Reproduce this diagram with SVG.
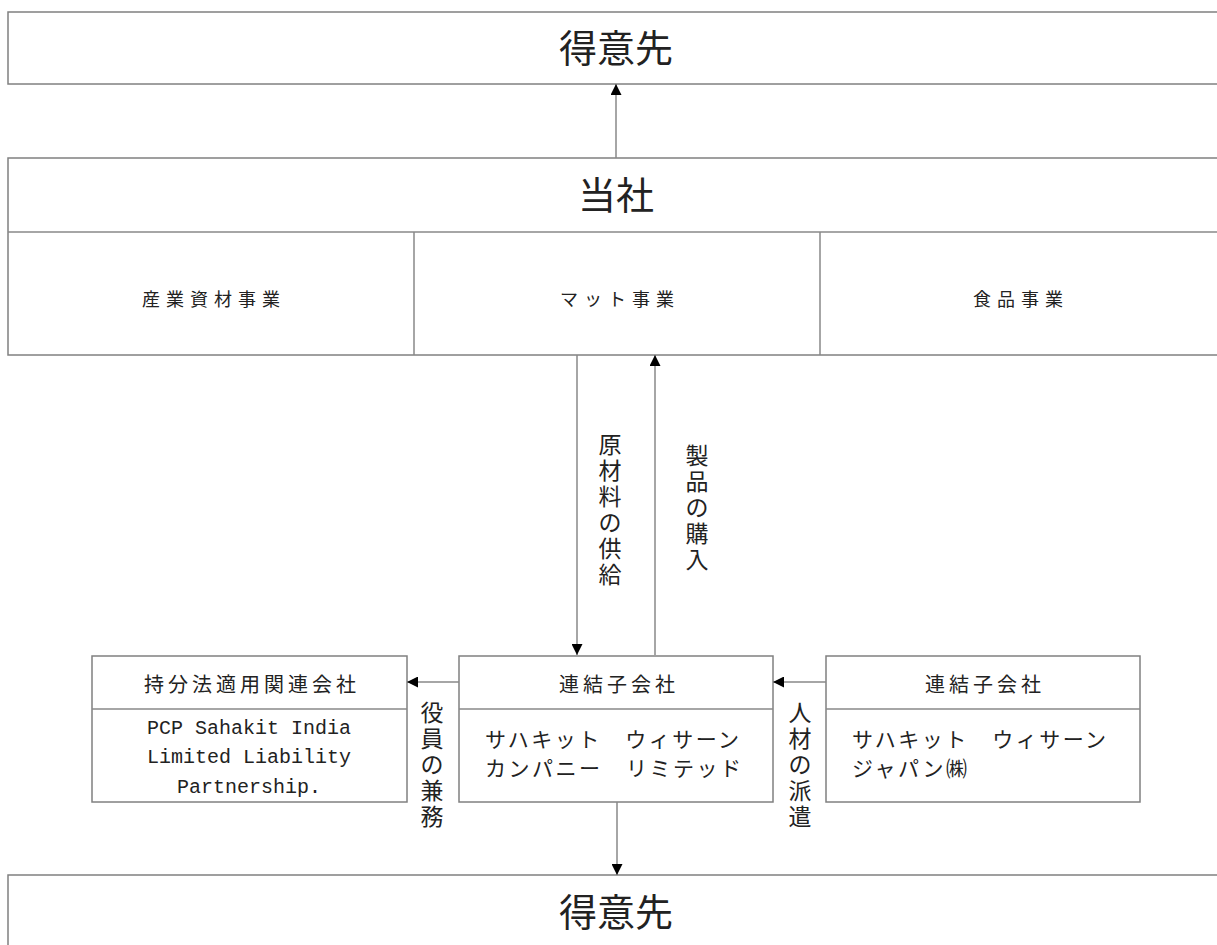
<svg xmlns="http://www.w3.org/2000/svg" width="1217" height="945" viewBox="0 0 1217 945">
<style>
.box{fill:#fff;stroke:#808080;stroke-width:1.5}
.ln{stroke:#888;stroke-width:1.5;fill:none}
.t{font-family:"Liberation Serif","Noto Sans CJK JP",serif;fill:#222}
.big{font-size:38px;text-anchor:middle;dominant-baseline:central}
.mid{font-size:18px;letter-spacing:6px;text-anchor:middle;dominant-baseline:central}
.ttl{font-size:20px;letter-spacing:4px;text-anchor:middle;dominant-baseline:central}
.body{font-size:21px;letter-spacing:2.5px;dominant-baseline:central}
.mono{font-family:"Liberation Mono",monospace;font-size:20px;fill:#222;text-anchor:middle;dominant-baseline:central}
.v{font-size:23px;text-anchor:middle;dominant-baseline:central}
</style>
<defs>
<marker id="ah" viewBox="0 0 10 10" refX="10" refY="5" markerWidth="11" markerHeight="11" markerUnits="userSpaceOnUse" orient="auto">
<path d="M0,0 L10,5 L0,10 z" fill="#000"/>
</marker>
</defs>
<rect width="1217" height="945" fill="#fff"/>

<g id="customer-top">
<rect class="box" x="8" y="12" width="1220" height="72"/>
<text class="t big" x="616" y="49">得意先</text>
</g>

<g id="company">
<rect class="box" x="8" y="158" width="1220" height="197"/>
<line class="ln" x1="8" y1="232" x2="1217" y2="232"/>
<line class="ln" x1="414" y1="232" x2="414" y2="355"/>
<line class="ln" x1="820" y1="232" x2="820" y2="355"/>
<text class="t big" x="616" y="196">当社</text>
<text class="t mid" x="214" y="300">産業資材事業</text>
<text class="t mid" x="620" y="300">マット事業</text>
<text class="t mid" x="1021" y="300">食品事業</text>
</g>

<g id="affiliate">
<rect class="box" x="92" y="656" width="315" height="146"/>
<line class="ln" x1="92" y1="709" x2="407" y2="709"/>
<text class="t ttl" x="252" y="685">持分法適用関連会社</text>
<text class="mono" x="249" y="728">PCP Sahakit India</text>
<text class="mono" x="249" y="757">Limited Liability</text>
<text class="mono" x="249" y="787">Partnership.</text>
</g>

<g id="sub-main">
<rect class="box" x="459" y="656" width="314" height="146"/>
<line class="ln" x1="459" y1="709" x2="773" y2="709"/>
<text class="t ttl" x="619" y="685">連結子会社</text>
<text class="t body" x="485" y="740">サハキット　ウィサーン</text>
<text class="t body" x="485" y="769">カンパニー　リミテッド</text>
</g>

<g id="sub-japan">
<rect class="box" x="826" y="656" width="314" height="146"/>
<line class="ln" x1="826" y1="709" x2="1140" y2="709"/>
<text class="t ttl" x="985" y="685">連結子会社</text>
<text class="t body" x="852" y="740">サハキット　ウィサーン</text>
<text class="t body" x="852" y="769">ジャパン㈱</text>
</g>

<g id="customer-bottom">
<rect class="box" x="8" y="875" width="1220" height="90"/>
<text class="t big" x="616" y="913">得意先</text>
</g>

<g id="connectors">
<line class="ln" x1="616" y1="158" x2="616" y2="84" marker-end="url(#ah)"/>
<line class="ln" x1="577" y1="355" x2="577" y2="655" marker-end="url(#ah)"/>
<line class="ln" x1="655" y1="655" x2="655" y2="355" marker-end="url(#ah)"/>
<line class="ln" x1="459" y1="682" x2="407" y2="682" marker-end="url(#ah)"/>
<line class="ln" x1="826" y1="682" x2="773" y2="682" marker-end="url(#ah)"/>
<line class="ln" x1="617" y1="802" x2="617" y2="875" marker-end="url(#ah)"/>
<text class="t v">
<tspan x="610" y="445">原</tspan><tspan x="610" y="471">材</tspan><tspan x="610" y="497">料</tspan><tspan x="610" y="523">の</tspan><tspan x="610" y="549">供</tspan><tspan x="610" y="575">給</tspan>
</text>
<text class="t v">
<tspan x="697" y="456">製</tspan><tspan x="697" y="482">品</tspan><tspan x="697" y="508">の</tspan><tspan x="697" y="534">購</tspan><tspan x="697" y="560">入</tspan>
</text>
<text class="t v">
<tspan x="432" y="713">役</tspan><tspan x="432" y="739">員</tspan><tspan x="432" y="765">の</tspan><tspan x="432" y="791">兼</tspan><tspan x="432" y="817">務</tspan>
</text>
<text class="t v">
<tspan x="800" y="713">人</tspan><tspan x="800" y="739">材</tspan><tspan x="800" y="765">の</tspan><tspan x="800" y="791">派</tspan><tspan x="800" y="817">遣</tspan>
</text>
</g>
</svg>
